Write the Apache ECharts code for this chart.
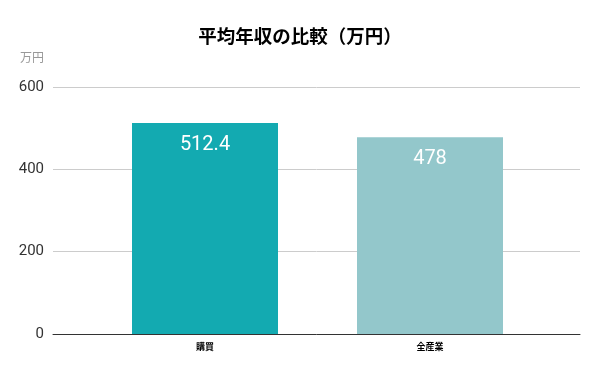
<!DOCTYPE html>
<html><head><meta charset="utf-8">
<script src="https://cdn.jsdelivr.net/npm/echarts@6/dist/echarts.min.js"></script>
<style>html,body{margin:0;padding:0;background:#fff}#c{width:600px;height:371px}</style>
</head><body><div id="c"></div>
<script>
const categories = ['購買', '全産業'];
const values = [512.4, 478];
const yTicks = [0, 200, 400, 600];
const colors = ['#13AAB1', '#93C7CB'];
const chart = echarts.init(document.getElementById('c'), null, {renderer: 'canvas'});
chart.setOption({
  animation: false,
  title: {text: '平均年収の比較（万円）', left: 'center', top: 22,
    textStyle: {fontFamily: 'Noto Sans CJK JP', fontWeight: 'bold', fontSize: 18.5, color: '#000'}},
  grid: [
    {left: 53, right: 20, top: 87, bottom: 37},
    {left: 92.5, right: 57.5, top: 87, bottom: 37}
  ],
  xAxis: [
    {gridIndex: 0, type: 'category', data: [''], axisLine: {lineStyle: {color: '#333'}}, axisTick: {show: false}, axisLabel: {show: false}},
    {gridIndex: 1, type: 'category', data: categories, axisLine: {show: false}, axisTick: {show: false},
      axisLabel: {margin: 8, fontFamily: 'Noto Sans CJK JP', fontWeight: 'bold', fontSize: 9, color: '#000'}}
  ],
  yAxis: [
    {gridIndex: 0, type: 'value', min: yTicks[0], max: yTicks[yTicks.length-1], interval: 200,
      name: '万円', nameLocation: 'end', nameGap: 24,
      nameTextStyle: {fontFamily: 'Noto Sans CJK JP', fontSize: 12, color: '#999', align: 'left', padding: [0, 0, 0, -33]},
      axisLabel: {fontFamily: 'Roboto', fontSize: 15, color: '#333', margin: 9},
      axisLine: {show: false}, axisTick: {show: false},
      splitLine: {lineStyle: {color: '#ccc'}}},
    {gridIndex: 1, type: 'value', min: 0, max: 600, show: false}
  ],
  series: [{
    type: 'bar', xAxisIndex: 1, yAxisIndex: 1,
    data: values.map((v, i) => ({value: v, itemStyle: {color: colors[i]}})),
    barWidth: 146,
    label: {show: true, position: 'insideTop', distance: 12, color: '#fff', fontFamily: 'Roboto', fontSize: 20}
  }]
});
</script></body></html>
